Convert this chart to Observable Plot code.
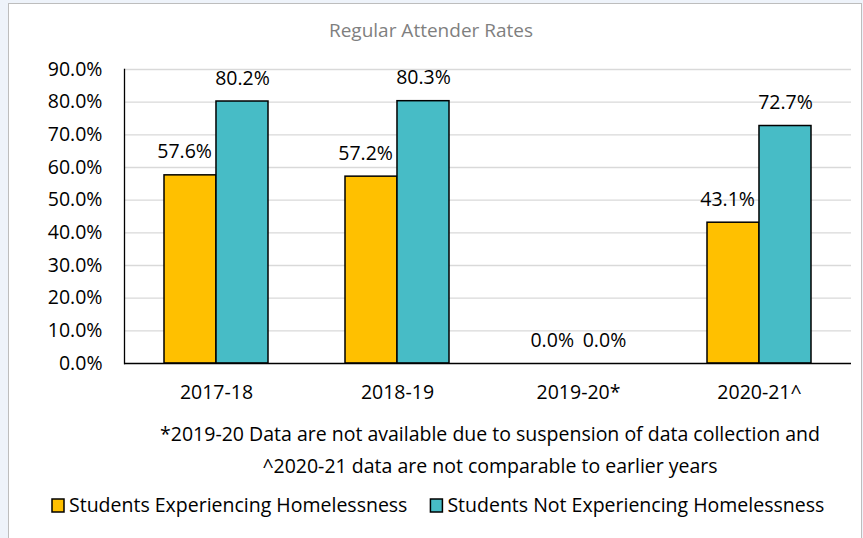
<!DOCTYPE html>
<html>
<head>
<meta charset="utf-8">
<script src="https://cdn.jsdelivr.net/npm/d3@7"></script>
<script src="https://cdn.jsdelivr.net/npm/@observablehq/plot@0.6"></script>
<style>
  html, body { margin: 0; padding: 0; background: #eef3fa; }
  #page { position: relative; width: 863px; height: 538px; overflow: hidden; }
  #box { position: absolute; left: 8px; top: 3px; width: 854px; height: 560px; background: #fff;
         border: 1.5px solid #bdbdbd; box-sizing: border-box; }
  #chart { position: absolute; left: 0; top: 0; }
  #notes { position: absolute; left: 0; top: 0; }
  #notes text { font-family: "Open Sans", sans-serif; }
</style>
</head>
<body>
<div id="page">
  <div id="box"></div>
  <div id="chart"></div>
  <svg id="notes" width="863" height="538"></svg>
</div>
<script>
// ---- data ----
const years = ["2017-18", "2018-19", "2019-20*", "2020-21^"];
const groups = ["Students Experiencing Homelessness", "Students Not Experiencing Homelessness"];
const experiencing = [57.6, 57.2, 0.0, 43.1];
const notExperiencing = [80.2, 80.3, 0.0, 72.7];
const yTicks = [0, 10, 20, 30, 40, 50, 60, 70, 80, 90];
const groupColors = ["#FFC000", "#47BCC6"];
const titleText = "Regular Attender Rates";
const footnotes = [
  "*2019-20 Data are not available due to suspension of data collection and",
  "^2020-21 data are not comparable to earlier years"
];

const table = years.flatMap((year, i) => [
  {year, group: groups[0], value: experiencing[i]},
  {year, group: groups[1], value: notExperiencing[i]}
]);

// ---- layout ----
const W = 863, H = 410, mL = 124, mR = 12, mT = 69, mB = 47;
const padInner = 0.428, padOuter = padInner / 2;
const step = (W - mL - mR) / years.length;
const barW = step * (1 - padInner) / 2;   // each of the two bars in a group
const fmt = d => d.toFixed(1) + "%";
const isA = d => d.group === groups[0];
const isB = d => d.group === groups[1];

const chart = Plot.plot({
  width: W, height: H,
  marginLeft: mL, marginRight: mR, marginTop: mT, marginBottom: mB,
  style: {fontFamily: "'Open Sans', sans-serif", fontSize: "19.5px", background: "none", color: "#000", overflow: "visible"},
  x: {domain: years, paddingInner: padInner, paddingOuter: padOuter, label: null, tickSize: 0, tickPadding: 22},
  y: {domain: [0, 90], ticks: yTicks, tickFormat: fmt, label: null, tickSize: 0, tickPadding: 22},
  color: {domain: groups, range: groupColors},
  marks: [
    Plot.ruleY(yTicks.filter(d => d > 0), {stroke: "#d9d9d9", strokeWidth: 1.3}),
    Plot.barY(table.filter(isA), {x: "year", y: "value", fill: "group", stroke: "#000", strokeWidth: 1.5, insetRight: barW}),
    Plot.barY(table.filter(isB), {x: "year", y: "value", fill: "group", stroke: "#000", strokeWidth: 1.5, insetLeft: barW}),
    Plot.ruleY([0], {stroke: "#000", strokeWidth: 1.3}),
    Plot.frame({anchor: "left", stroke: "#000", strokeWidth: 1.3}),
    Plot.text(table.filter(isA), {
      x: "year", y: "value", text: d => fmt(d.value),
      textAnchor: "end", dx: -4.5, dy: -17, lineAnchor: "bottom"
    }),
    Plot.text(table.filter(isB), {
      x: "year", y: "value", text: d => fmt(d.value),
      dx: barW / 2, dy: -17, lineAnchor: "bottom"
    })
  ]
});
document.getElementById("chart").appendChild(chart);

// ---- title, footnotes, legend ----
const notes = d3.select("#notes");
notes.append("text")
  .attr("x", 431).attr("y", 37).attr("text-anchor", "middle")
  .attr("fill", "#7f7f7f").style("font-size", "19px")
  .text(titleText);

footnotes.forEach((t, i) => {
  notes.append("text")
    .attr("x", 490).attr("y", 441 + i * 32).attr("text-anchor", "middle")
    .attr("fill", "#000").style("font-size", "19.5px")
    .text(t);
});

let lx = 52;
groups.forEach((g, i) => {
  notes.append("rect")
    .attr("x", lx).attr("y", 499).attr("width", 12).attr("height", 13)
    .attr("fill", groupColors[i]).attr("stroke", "#000").attr("stroke-width", 1.5);
  const t = notes.append("text")
    .attr("x", lx + 17).attr("y", 512)
    .attr("fill", "#000").style("font-size", "19.5px")
    .text(g);
  lx = lx + 17 + t.node().getComputedTextLength() + 23;
});
</script>
</body>
</html>
